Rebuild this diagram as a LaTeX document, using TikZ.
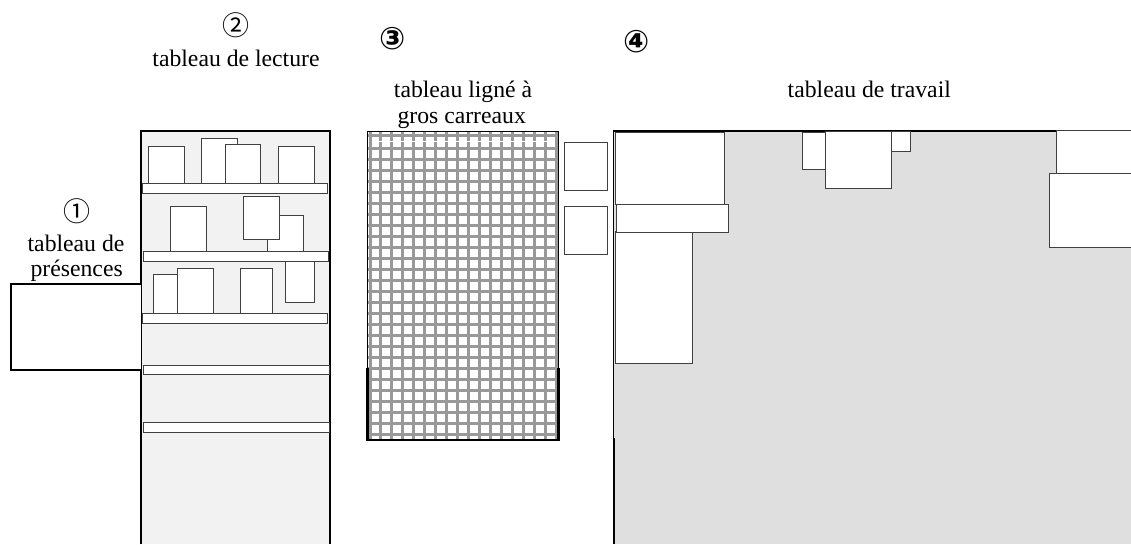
\documentclass[tikz,border=0pt]{standalone}
\usepackage{fontspec}
\setmainfont{Liberation Serif}
\newfontfamily\circfont{DejaVu Sans}
\newfontfamily\circlight{Noto Sans CJK SC}
\definecolor{panelA}{HTML}{F2F2F2}
\definecolor{panelB}{HTML}{DFDFDF}
\definecolor{gridgray}{HTML}{999999}
\definecolor{bookline}{HTML}{404040}
\tikzset{
  book/.style={draw=bookline, fill=white, line width=1},
  shelf/.style={draw=bookline, fill=white, line width=1},
  frame/.style={draw=black, line width=1.2},
  lbl/.style={font=\fontsize{23.7}{26}\selectfont, inner sep=0, anchor=base},
  num/.style={font=\circlight\fontsize{27}{29}\selectfont, inner sep=0},
  numbold/.style={font=\circfont\bfseries\fontsize{31}{33}\selectfont, inner sep=0}
}
\begin{document}
\begin{tikzpicture}[x=1pt,y=-1pt]
\useasboundingbox (0,0) rectangle (1131,544);
\clip (0,0) rectangle (1131,544);

% ---------- panel 2 : reading board ----------
\fill[panelA] (141,131) rectangle (330,544);
\draw[frame] (141,544) -- (141,131) -- (330,131) -- (330,438);
\draw[black, line width=2] (141,438) -- (141,544);
\draw[black, line width=2] (329.5,438) -- (329.5,544);
% row 1
\draw[book] (148.3,146.3) rectangle (184.3,183.3);
\draw[book] (201,138.3) rectangle (237.3,183.3);
\draw[book] (225,144) rectangle (260.7,183.3);
\draw[book] (278.3,146.3) rectangle (314.3,183.3);
\draw[shelf] (142,183.3) rectangle (327.3,193.3);
% row 2
\draw[book] (170.3,206.7) rectangle (206.3,251.3);
\draw[book] (267,215) rectangle (303,251.3);
\draw[book] (243.3,196) rectangle (279.3,239.3);
\draw[shelf] (143,251.3) rectangle (328.3,261.3);
% row 3
\draw[book] (153.3,274.3) rectangle (177.7,313.3);
\draw[book] (177.7,268.7) rectangle (213.3,313.3);
\draw[book] (240.3,268) rectangle (272.7,313.3);
\draw[book] (285.3,261.3) rectangle (314.3,302.7);
\draw[shelf] (142.3,313.3) rectangle (327.3,323.3);
% empty shelves
\draw[shelf] (143.7,365.3) rectangle (329.3,374.7);
\draw[shelf] (143.7,422.7) rectangle (329.3,432.3);

% ---------- panel 1 : attendance board ----------
\draw[black, line width=1.6, fill=white] (141,283.7) -- (10.7,283.7) -- (10.7,370) -- (141,370);

% ---------- panel 3 : squared board ----------
\fill[white] (367.7,131) rectangle (558.3,440);
\begin{scope}
\clip (367.7,131) rectangle (558.3,440);
\foreach \k in {0,...,17} {
  \draw[gridgray, line width=3] ({370+10.95*\k},131) -- ({370+10.95*\k},440);
}
\draw[gridgray, line width=3] (367.7,135.5) -- (558.3,135.5);
\foreach \k in {0,...,26} {
  \draw[gridgray, line width=3] (367.7,{148+11*\k}) -- (558.3,{148+11*\k});
}
\draw[white, line width=1.5] (374,141.7) -- (549,141.7);
\end{scope}
\draw[black, line width=1] (367.7,131) rectangle (558.3,440);
\draw[black, line width=2.5] (367.7,368) -- (367.7,440) -- (558.3,440) -- (558.3,368);

% small boxes between boards
\draw[book] (564.3,142.3) rectangle (607.3,190.7);
\draw[book] (564.3,206.3) rectangle (607.3,254.7);

% ---------- panel 4 : work board ----------
\fill[panelB] (613.3,131) rectangle (1131,544);
\draw[frame] (613.3,438) -- (613.3,131) -- (1131,131);
\draw[black, line width=2.2] (613.8,438) -- (613.8,544);
\draw[book] (615.3,132.3) rectangle (724.3,204);
\draw[book] (615,231.7) rectangle (692,363.3);
\draw[book] (616,204) rectangle (728.3,232.7);
\draw[book] (802,132.3) rectangle (825.3,169.3);
\draw[book] (891,131) rectangle (910,151);
\draw[book] (825.3,131) rectangle (891,188.7);
\draw[book] (1056,130.3) rectangle (1140,173.7);
\draw[book] (1049.7,173.7) rectangle (1140,247);

% ---------- labels ----------
\node[num] (n1) at (76.7,211.7) {①};
\node[lbl] (t1a) at (76,251.7) {tableau de};
\node[lbl] (t1b) at (76.7,276.7) {présences};
\node[num] (n2) at (235.7,25.7) {②};
\node[lbl] (t2) at (236,66) {tableau de lecture};
\node[numbold] (n3) at (392.3,39) {③};
\node[lbl] (t3a) at (463,97.7) {tableau ligné à};
\node[lbl] (t3b) at (461.7,123.3) {gros carreaux};
\node[numbold] (n4) at (636.7,41.7) {④};
\node[lbl] (t4) at (869.3,97.7) {tableau de travail};
\end{tikzpicture}
\end{document}
